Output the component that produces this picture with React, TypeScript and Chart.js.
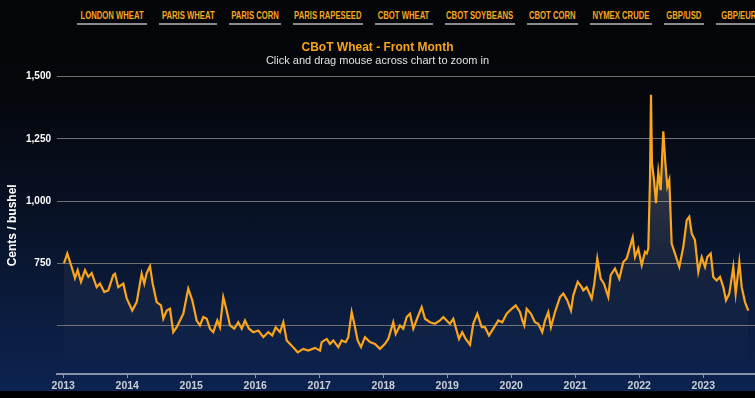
import React, { useEffect, useRef } from "react";
import { Chart, registerables } from "chart.js";
Chart.register(...registerables);

const navLabels = ["LONDON WHEAT", "PARIS WHEAT", "PARIS CORN", "PARIS RAPESEED", "CBOT WHEAT", "CBOT SOYBEANS", "CBOT CORN", "NYMEX CRUDE", "GBP/USD", "GBP/EUR"];
const navWidths = [70, 58, 52, 70, 58, 70, 51, 62, 40, 45];
const titleText = "CBoT Wheat - Front Month";
const subtitleText = "Click and drag mouse across chart to zoom in";
const yAxisTitle = "Cents / bushel";
const yTickValues = [500, 750, 1000, 1250, 1500];
const xTickYears = [2013, 2014, 2015, 2016, 2017, 2018, 2019, 2020, 2021, 2022, 2023];

const dates = [
  2013.011, 2013.063, 2013.131, 2013.183, 2013.225, 2013.277, 2013.339, 2013.391, 2013.444, 2013.522,
  2013.573, 2013.641, 2013.703, 2013.781, 2013.808, 2013.859, 2013.938, 2013.991, 2014.078, 2014.147,
  2014.225, 2014.266, 2014.303, 2014.355, 2014.397, 2014.459, 2014.527, 2014.563, 2014.616, 2014.667,
  2014.719, 2014.772, 2014.875, 2014.953, 2015.016, 2015.084, 2015.136, 2015.188, 2015.241, 2015.292,
  2015.344, 2015.406, 2015.448, 2015.500, 2015.553, 2015.605, 2015.672, 2015.734, 2015.788, 2015.839,
  2015.902, 2015.969, 2016.047, 2016.125, 2016.203, 2016.266, 2016.319, 2016.386, 2016.438, 2016.491,
  2016.569, 2016.663, 2016.750, 2016.828, 2016.933, 2017.011, 2017.038, 2017.116, 2017.167, 2017.219,
  2017.297, 2017.350, 2017.413, 2017.453, 2017.506, 2017.547, 2017.600, 2017.652, 2017.714, 2017.792,
  2017.870, 2017.948, 2018.027, 2018.078, 2018.156, 2018.194, 2018.261, 2018.313, 2018.366, 2018.417,
  2018.469, 2018.538, 2018.600, 2018.652, 2018.730, 2018.808, 2018.886, 2018.938, 2019.016, 2019.042,
  2019.094, 2019.131, 2019.183, 2019.234, 2019.288, 2019.355, 2019.406, 2019.469, 2019.538, 2019.589,
  2019.652, 2019.719, 2019.797, 2019.859, 2019.928, 2020.006, 2020.069, 2020.136, 2020.172, 2020.203,
  2020.241, 2020.308, 2020.370, 2020.422, 2020.484, 2020.527, 2020.578, 2020.620, 2020.683, 2020.761,
  2020.813, 2020.875, 2020.933, 2020.969, 2021.038, 2021.100, 2021.125, 2021.178, 2021.256, 2021.297,
  2021.344, 2021.397, 2021.448, 2021.516, 2021.553, 2021.620, 2021.688, 2021.750, 2021.803, 2021.855,
  2021.897, 2021.933, 2021.984, 2022.038, 2022.089, 2022.116, 2022.141, 2022.167, 2022.183, 2022.198,
  2022.230, 2022.261, 2022.297, 2022.334, 2022.375, 2022.406, 2022.438, 2022.469, 2022.506, 2022.558,
  2022.625, 2022.688, 2022.741, 2022.781, 2022.819, 2022.870, 2022.922, 2022.975, 2023.027, 2023.063,
  2023.116, 2023.156, 2023.209, 2023.261, 2023.313, 2023.355, 2023.406, 2023.469, 2023.506, 2023.563,
  2023.600, 2023.652, 2023.703,
];

const prices = [
  750, 789, 735, 690, 722, 675, 722, 695, 710, 654,
  669, 634, 641, 702, 708, 654, 668, 609, 560, 594,
  708, 668, 710, 738, 668, 594, 581, 527, 560, 567,
  473, 493, 547, 648, 601, 520, 500, 534, 527, 487,
  473, 520, 493, 614, 560, 500, 487, 513, 487, 520,
  487, 473, 480, 453, 473, 460, 493, 473, 513, 440,
  419, 392, 406, 399, 410, 399, 433, 446, 426, 440,
  413, 440, 433, 453, 554, 507, 440, 413, 453, 433,
  426, 406, 426, 446, 513, 466, 500, 487, 534, 547,
  487, 534, 574, 527, 513, 507, 520, 534, 513, 507,
  527, 493, 446, 473, 446, 423, 507, 547, 493, 493,
  460, 487, 520, 513, 547, 567, 581, 554, 520, 500,
  567, 547, 513, 507, 473, 520, 554, 493, 554, 614,
  628, 601, 560, 621, 675, 654, 641, 654, 608, 668,
  769, 688, 668, 614, 702, 729, 688, 755, 769, 816,
  854, 775, 809, 742, 796, 789, 809, 1085, 1427, 1152,
  1085, 991, 1118, 1044, 1280, 1158, 1058, 1085, 829, 789,
  735, 816, 923, 937, 870, 843, 715, 775, 735, 775,
  789, 695, 681, 695, 654, 601, 628, 735, 628, 755,
  654, 594, 560,
];

const FONT = "'Liberation Sans', Arial, sans-serif";

export default function App() {
  const ref = useRef<HTMLCanvasElement>(null);

  useEffect(() => {
    const canvas = ref.current;
    if (!canvas) return;
    const chart = new Chart(canvas, {
      type: "line",
      data: {
        datasets: [
          {
            data: dates.map((d, i) => ({ x: d, y: prices[i] })),
            borderColor: "#f9a51d",
            borderWidth: 2.2,
            pointRadius: 0,
            tension: 0,
            fill: "start",
            backgroundColor: (ctx: any) => {
              const area = ctx.chart.chartArea;
              if (!area) return "rgba(255,255,255,0.1)";
              const g = ctx.chart.ctx.createLinearGradient(0, area.top, 0, area.bottom);
              g.addColorStop(0, "rgba(255,255,255,0.32)");
              g.addColorStop(0.45, "rgba(255,255,255,0.12)");
              g.addColorStop(0.65, "rgba(255,255,255,0.05)");
              g.addColorStop(1, "rgba(255,255,255,0)");
              return g;
            },
          },
        ],
      },
      options: {
        animation: false,
        responsive: false,
        maintainAspectRatio: false,
        layout: { padding: { left: 0, right: 0, top: 1, bottom: 0 } },
        plugins: {
          legend: { display: false },
          tooltip: { enabled: false },
          title: {
            display: true,
            text: titleText,
            color: "#f7a31c",
            font: { family: FONT, size: 12, weight: "bold" },
            padding: { top: 9, bottom: 0 },
          },
          subtitle: {
            display: true,
            text: subtitleText,
            color: "#e2e2e2",
            font: { family: FONT, size: 11 },
            padding: { top: 0, bottom: 9 },
          },
        },
        scales: {
          x: {
            type: "linear",
            min: 2012.902,
            max: 2023.808,
            afterBuildTicks: (s: any) => {
              s.ticks = xTickYears.map((v) => ({ value: v }));
            },
            afterFit: (s: any) => {
              s.height = 17;
            },
            ticks: {
              autoSkip: false,
              maxRotation: 0,
              color: "#c9ced8",
              font: { family: FONT, size: 10.5, weight: "bold" },
              padding: 1.5,
              callback: (v: any) => String(v),
            },
            grid: { drawOnChartArea: false, drawTicks: true, tickLength: 4, color: "#8a94a6", lineWidth: 1 },
            border: { display: true, color: "#8a94a6", width: 2 },
          },
          y: {
            min: 305,
            max: 1500,
            afterBuildTicks: (s: any) => {
              s.ticks = yTickValues.map((v) => ({ value: v }));
            },
            afterFit: (s: any) => {
              s.width = 57;
            },
            ticks: {
              color: "#ffffff",
              font: { family: FONT, size: 10, weight: "bold" },
              padding: 6,
              callback: (v: any) => (v === 500 ? "" : Number(v).toLocaleString("en-US")),
            },
            grid: { color: "#707070", lineWidth: 1, drawTicks: false },
            border: { display: false },
            title: {
              display: true,
              text: yAxisTitle,
              color: "#ffffff",
              font: { family: FONT, size: 12, weight: "bold" },
              padding: { top: 5, bottom: 0 },
            },
          },
        },
      },
    } as any);
    return () => chart.destroy();
  }, []);

  return (
    <div style={{ position: "absolute", left: 0, top: 0, width: 755, height: 398, background: "#000", overflow: "hidden" }}>
      <div
        style={{
          position: "absolute",
          left: 0,
          top: 0,
          width: 755,
          height: 391,
          background: "linear-gradient(to bottom, #040507 0%, #05070c 25%, #081226 55%, #0b1b3c 78%, #0c2350 100%)",
        }}
      />
      <div style={{ position: "absolute", left: 77, top: 10, display: "flex", whiteSpace: "nowrap" }}>
        {navLabels.map((l, i) => (
          <div
            key={l}
            style={{
              width: navWidths[i],
              flex: "none",
              display: "flex",
              justifyContent: "center",
              lineHeight: "12px",
              paddingBottom: 1,
              borderBottom: "2.5px solid #8a8a8a",
              marginRight: 12,
            }}
          >
            <span
              style={{
                display: "inline-block",
                color: "#f5a623",
                fontFamily: "'Liberation Sans', Arial, sans-serif",
                fontWeight: "bold",
                fontSize: 10,
                transform: "scaleX(0.77)",
                transformOrigin: "center",
              }}
            >
              {l}
            </span>
          </div>
        ))}
      </div>
      <canvas ref={ref} width={755} height={361} style={{ position: "absolute", left: 0, top: 30, width: 755, height: 361 }} />
    </div>
  );
}
